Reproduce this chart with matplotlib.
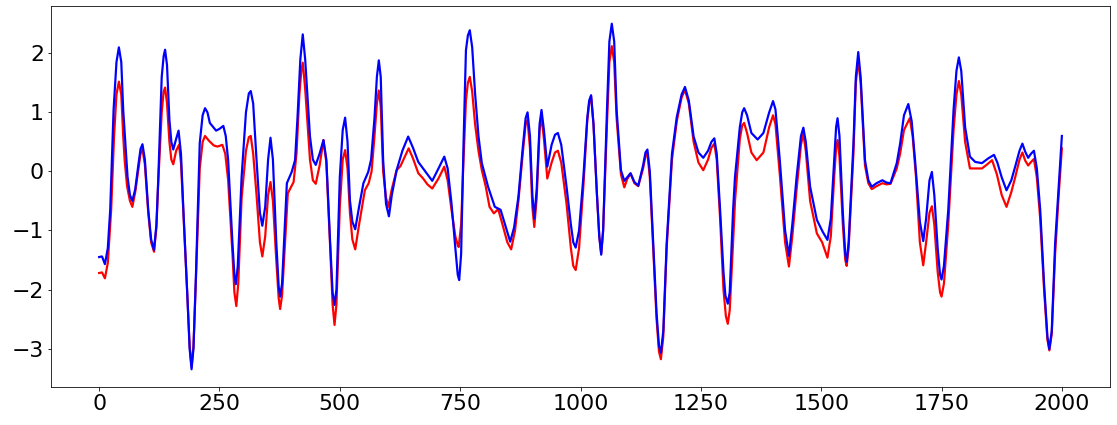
import matplotlib

matplotlib.use('agg')
import matplotlib.pyplot as plt
import numpy as np

# values (x, value)
red_x = [0, 6, 12, 18, 25, 31, 36, 41, 46, 50, 53, 58, 64, 69, 75, 81, 86, 90, 95, 102,
         108, 114, 119, 123, 130, 134, 137, 141, 146, 150, 154, 160, 166, 170, 175, 183, 188,
         192, 196, 201, 209, 215, 220, 228, 238, 246, 256, 262, 268, 277, 281, 285, 289, 296,
         305, 311, 315, 320, 327, 334, 339, 345, 351, 356, 361, 368, 373, 376, 380, 392, 404,
         410, 416, 420, 423, 428, 438, 444, 450, 458, 466, 472, 480, 485, 489, 493, 500, 506,
         511, 516, 521, 526, 532, 540, 552, 560, 566, 572, 577, 581, 585, 590, 596, 601, 608,
         618, 626, 635, 643, 652, 663, 673, 682, 692, 705, 717, 724, 732, 740, 745, 747, 752,
         757, 762, 766, 770, 775, 781, 788, 795, 803, 811, 820, 829, 838, 848, 856, 864, 871,
         880, 886, 890, 895, 900, 904, 909, 915, 919, 924, 931, 940, 947, 953, 960, 971, 980,
         985, 990, 997, 1006, 1014, 1018, 1022, 1027, 1034, 1039, 1043, 1047, 1055, 1060, 1065,
         1070, 1075, 1084, 1091, 1097, 1104, 1112, 1120, 1130, 1135, 1139, 1144, 1151, 1158,
         1163, 1167, 1172, 1179, 1190, 1200, 1210, 1217, 1225, 1235, 1245, 1255, 1265, 1272,
         1278, 1283, 1290, 1297, 1302, 1306, 1310, 1317, 1321, 1331, 1336, 1340, 1346, 1355,
         1366, 1380, 1392, 1400, 1405, 1414, 1425, 1433, 1440, 1449, 1458, 1463, 1468, 1477,
         1491, 1502, 1513, 1520, 1527, 1531, 1534, 1538, 1545, 1550, 1553, 1557, 1567, 1572,
         1577, 1582, 1591, 1598, 1605, 1615, 1627, 1636, 1644, 1657, 1664, 1672, 1684, 1690,
         1697, 1705, 1712, 1718, 1725, 1730, 1735, 1742, 1747, 1750, 1755, 1764, 1775, 1781,
         1786, 1791, 1799, 1809, 1820, 1834, 1845, 1855, 1865, 1875, 1885, 1895, 1903, 1912,
         1918, 1924, 1930, 1936, 1942, 1948, 1955, 1963, 1970, 1974, 1979, 1986, 1993, 2000]
red_y = [-1.72, -1.71, -1.81, -1.55, -0.65, 0.60, 1.30, 1.52, 1.30, 0.60, 0.19, -0.25, -0.50,
         -0.60, -0.35, 0.00, 0.30, 0.37, 0.12, -0.70, -1.20, -1.36, -0.95, -0.15, 1.00, 1.35,
         1.42, 1.15, 0.50, 0.20, 0.12, 0.35, 0.45, 0.15, -0.70, -2.06, -2.95, -3.31, -2.95,
         -1.85, 0.05, 0.50, 0.60, 0.52, 0.44, 0.42, 0.45, 0.30, -0.15, -1.40, -2.05, -2.28,
         -1.90, -0.45, 0.35, 0.58, 0.60, 0.30, -0.40, -1.20, -1.44, -1.10, -0.40, -0.18, -0.50,
         -1.50, -2.15, -2.33, -2.10, -0.37, -0.18, 0.30, 1.30, 1.70, 1.84, 1.40, 0.20, -0.15,
         -0.21, 0.10, 0.53, 0.15, -1.30, -2.25, -2.60, -2.25, -0.60, 0.20, 0.36, 0.05, -0.70,
         -1.15, -1.32, -0.90, -0.32, -0.20, 0.00, 0.60, 1.15, 1.37, 1.10, 0.00, -0.45, -0.60,
         -0.30, 0.02, 0.09, 0.25, 0.39, 0.22, -0.03, -0.12, -0.22, -0.29, -0.12, 0.08, -0.15,
         -0.65, -1.10, -1.25, -1.28, -0.90, 0.20, 1.20, 1.50, 1.60, 1.35, 0.80, 0.35, 0.02,
         -0.25, -0.60, -0.71, -0.64, -0.90, -1.20, -1.32, -1.00, -0.50, 0.30, 0.80, 0.87, 0.40,
         -0.60, -0.94, -0.45, 0.70, 0.92, 0.55, -0.12, 0.15, 0.32, 0.35, 0.15, -0.55, -1.30,
         -1.60, -1.67, -1.30, -0.25, 0.85, 1.15, 1.27, 0.80, -0.37, -1.10, -1.39, -1.00, 0.80,
         1.85, 2.12, 1.85, 0.90, -0.05, -0.27, -0.13, -0.04, -0.20, -0.25, 0.05, 0.26, 0.30,
         -0.10, -1.30, -2.50, -3.05, -3.18, -2.80, -1.30, 0.20, 0.85, 1.25, 1.38, 1.15, 0.50,
         0.15, 0.02, 0.20, 0.40, 0.47, 0.20, -0.80, -2.00, -2.45, -2.58, -2.35, -1.20, -0.50,
         0.55, 0.78, 0.82, 0.65, 0.32, 0.19, 0.32, 0.75, 0.95, 0.80, -0.05, -1.20, -1.61, -1.10,
         -0.30, 0.45, 0.64, 0.35, -0.50, -1.05, -1.20, -1.46, -1.10, -0.10, 0.40, 0.53, 0.25,
         -0.90, -1.50, -1.60, -1.30, 0.30, 1.50, 1.88, 1.50, 0.10, -0.20, -0.30, -0.25, -0.20,
         -0.22, -0.21, 0.05, 0.30, 0.70, 0.90, 0.60, -0.10, -1.20, -1.59, -1.20, -0.70, -0.59,
         -0.90, -1.70, -2.05, -2.12, -1.90, -0.90, 0.70, 1.30, 1.53, 1.30, 0.50, 0.05, 0.05,
         0.05, 0.12, 0.19, -0.05, -0.40, -0.60, -0.35, -0.10, 0.20, 0.32, 0.18, 0.10, 0.16,
         0.21, -0.10, -0.80, -2.00, -2.85, -3.03, -2.75, -1.40, -0.45, 0.39]

blue_x = [0, 6, 12, 18, 23, 30, 36, 41, 46, 50, 55, 59, 64, 69, 75, 81, 86, 90, 95, 102, 108,
          114, 119, 123, 130, 134, 137, 141, 146, 150, 154, 160, 165, 170, 175, 183, 188, 192,
          196, 201, 209, 215, 220, 225, 230, 243, 250, 258, 263, 268, 277, 281, 284, 288, 296,
          305, 311, 315, 320, 327, 334, 339, 345, 351, 356, 361, 368, 373, 376, 380, 390, 400,
          407, 412, 418, 423, 428, 438, 444, 450, 458, 466, 472, 480, 485, 489, 493, 500, 506,
          511, 516, 521, 526, 532, 540, 549, 559, 565, 572, 577, 581, 585, 590, 596, 602, 608,
          618, 630, 642, 652, 663, 673, 682, 692, 705, 717, 724, 732, 740, 745, 748, 752, 757,
          762, 766, 770, 775, 781, 788, 795, 808, 822, 834, 845, 854, 862, 871, 880, 886, 890,
          895, 900, 904, 909, 915, 919, 924, 931, 940, 947, 953, 960, 971, 980, 985, 990, 997,
          1006, 1014, 1018, 1022, 1027, 1034, 1039, 1043, 1047, 1055, 1060, 1065, 1070, 1075,
          1084, 1091, 1097, 1104, 1112, 1120, 1130, 1135, 1139, 1144, 1151, 1158, 1163, 1167,
          1172, 1179, 1190, 1200, 1210, 1217, 1225, 1235, 1245, 1255, 1265, 1272, 1278, 1283,
          1290, 1297, 1301, 1306, 1310, 1317, 1321, 1331, 1336, 1340, 1346, 1355, 1368, 1380,
          1392, 1400, 1405, 1414, 1425, 1433, 1440, 1449, 1458, 1463, 1468, 1477, 1491, 1503,
          1513, 1520, 1527, 1531, 1534, 1538, 1545, 1550, 1553, 1557, 1567, 1572, 1577, 1582,
          1591, 1598, 1605, 1615, 1627, 1636, 1644, 1657, 1664, 1672, 1681, 1688, 1695, 1705,
          1712, 1718, 1725, 1730, 1735, 1742, 1747, 1750, 1755, 1764, 1775, 1781, 1786, 1791,
          1799, 1809, 1820, 1834, 1847, 1859, 1866, 1875, 1885, 1895, 1903, 1912, 1918, 1924,
          1930, 1936, 1942, 1948, 1955, 1963, 1970, 1974, 1979, 1986, 1993, 2000]
blue_y = [-1.45, -1.44, -1.57, -1.30, -0.65, 1.04, 1.85, 2.10, 1.85, 1.04, 0.40, -0.09, -0.40,
          -0.50, -0.30, 0.08, 0.38, 0.46, 0.20, -0.65, -1.15, -1.33, -0.90, -0.09, 1.60, 1.95,
          2.06, 1.80, 0.87, 0.50, 0.37, 0.55, 0.69, 0.30, -0.65, -2.06, -3.00, -3.35, -3.00,
          -1.78, 0.48, 0.95, 1.07, 1.00, 0.82, 0.69, 0.72, 0.77, 0.60, 0.19, -1.22, -1.75,
          -1.91, -1.60, -0.09, 1.00, 1.32, 1.36, 1.15, 0.19, -0.70, -0.92, -0.60, 0.20, 0.57,
          0.20, -1.20, -1.95, -2.12, -1.90, -0.20, -0.01, 0.19, 0.90, 1.90, 2.32, 1.90, 0.59,
          0.20, 0.11, 0.30, 0.53, 0.20, -1.22, -2.05, -2.26, -2.00, -0.09, 0.70, 0.91, 0.50,
          -0.49, -0.85, -0.98, -0.60, -0.20, -0.01, 0.20, 0.90, 1.60, 1.88, 1.60, 0.19, -0.55,
          -0.76, -0.40, 0.02, 0.35, 0.59, 0.40, 0.16, 0.05, -0.05, -0.16, 0.05, 0.25, 0.05,
          -0.54, -1.30, -1.75, -1.84, -1.40, 0.47, 2.05, 2.30, 2.39, 2.10, 1.32, 0.60, 0.14,
          -0.26, -0.60, -0.65, -0.95, -1.19, -0.95, -0.43, 0.40, 0.90, 1.00, 0.60, -0.40, -0.80,
          -0.30, 0.80, 1.04, 0.70, 0.08, 0.45, 0.62, 0.65, 0.45, -0.26, -0.90, -1.20, -1.29,
          -1.00, -0.09, 0.90, 1.20, 1.29, 0.80, -0.37, -1.10, -1.41, -1.00, 1.04, 2.20, 2.50,
          2.20, 1.04, 0.02, -0.16, -0.10, -0.03, -0.18, -0.24, 0.10, 0.32, 0.37, 0.00, -1.22,
          -2.40, -2.95, -3.07, -2.70, -1.22, 0.30, 0.92, 1.30, 1.43, 1.20, 0.59, 0.32, 0.23,
          0.35, 0.50, 0.56, 0.30, -0.65, -1.70, -2.10, -2.24, -2.05, -0.65, -0.09, 0.75, 1.00,
          1.07, 0.95, 0.65, 0.54, 0.65, 1.00, 1.19, 1.05, 0.19, -1.00, -1.43, -0.90, -0.09,
          0.60, 0.74, 0.50, -0.26, -0.82, -1.02, -1.16, -0.80, 0.20, 0.75, 0.90, 0.60, -0.70,
          -1.40, -1.53, -1.20, 0.47, 1.60, 2.02, 1.60, 0.19, -0.15, -0.26, -0.20, -0.15, -0.19,
          -0.20, 0.14, 0.47, 0.95, 1.14, 0.85, 0.19, -0.85, -1.18, -0.80, -0.15, -0.01, -0.40,
          -1.30, -1.75, -1.83, -1.60, -0.65, 1.04, 1.70, 1.93, 1.70, 0.75, 0.25, 0.16, 0.14,
          0.22, 0.28, 0.15, -0.10, -0.32, -0.15, 0.08, 0.35, 0.47, 0.33, 0.23, 0.30, 0.35, 0.05,
          -0.65, -1.90, -2.80, -3.01, -2.70, -1.22, -0.30, 0.60]

fig = plt.figure(figsize=(1117 / 72, 425 / 72), dpi=72)
ax = fig.add_axes([51 / 1117, 38 / 425, 1059 / 1117, 381 / 425])

ax.plot(red_x, red_y, color='red', lw=2.2)
ax.plot(blue_x, blue_y, color='blue', lw=2.2)

ax.set_ylim(-3.65, 2.80)
ax.set_xticks([0, 250, 500, 750, 1000, 1250, 1500, 1750, 2000])
ax.set_yticks([-3, -2, -1, 0, 1, 2])
ax.tick_params(labelsize=22)

fig.savefig('out.png', dpi=72)
